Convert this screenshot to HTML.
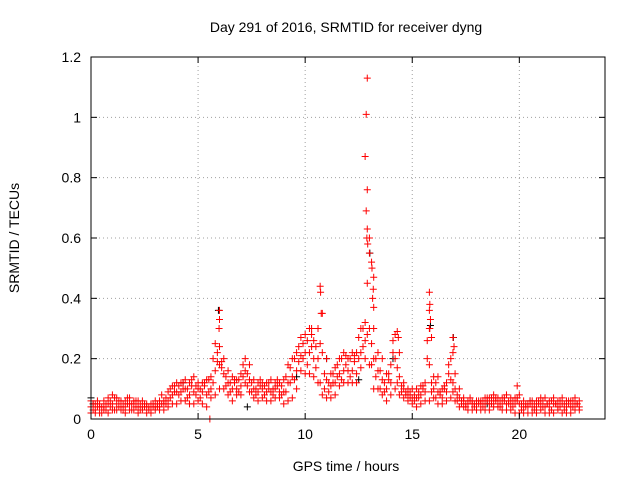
<!DOCTYPE html>
<html><head><meta charset="utf-8"><style>
body{margin:0;background:#fff}
svg{display:block;font-family:"Liberation Sans",sans-serif}
</style></head><body>
<svg id="c" width="640" height="480"></svg>
<script>
const xTicks=[0,5,10,15,20];
const yTicks=[0,0.2,0.4,0.6,0.8,1,1.2];
const yTickLabels=["0","0.2","0.4","0.6","0.8","1","1.2"];
const tStart=0, tStep=0.2, tStartB=0.1;
const lo=[.02,.02,.02,.03,.02,.03, .03,.03,.02,.03,.03,.02,.03,.02,.02,.03,
.03,.03,.04,.05,.05, .06,.06,.05,.05,.06, .05,.04,.07,.08,.1, .1,.08,.06,.08,.08,
.12,.09,.07,.06,.07, .06,.06,.07,.07,.05, .06,.07,.1,.16,.15, .15,.14,.12,.08,.07,
.07,.08,.11,.12,.12, .12,.12,.17,.2,.18, .1,.1,.08,.06,.08, .1,.08,.07,.06,.05,
.04,.05,.06,.06,.07, .05,.05,.06,.07,.06, .04,.04,.03,.03,.03, .03,.03,.03,.04,.04,
.03,.03,.03,.02,.02, .02,.02,.02,.02,.03, .02,.02,.02,.03,.02, .02,.02,.03,.03];
const mid=[.04,.03,.04,.04,.05,.05, .05,.04,.04,.05,.05,.04,.04,.04,.03,.04,
.04,.05,.06,.08,.09, .09,.1,.08,.09,.1, .09,.08,.1,.16,.18, .15,.12,.1,.1,.11,
.16,.13,.1,.09,.1, .09,.09,.1,.09,.09, .12,.14,.16,.21,.22, .22,.2,.2,.22,.13,
.11,.12,.15,.16,.16, .16,.15,.22,.26,.3, .2,.16,.13,.1,.12, .2,.14,.1,.08,.07,
.07,.08,.09,.18,.1, .09,.07,.09,.13,.1, .07,.06,.05,.05,.05, .05,.05,.05,.06,.05,
.05,.05,.05,.05,.05, .04,.04,.04,.04,.05, .04,.04,.05,.04,.05, .04,.04,.05,.04];
const hi=[.06,.05,.05,.06,.07,.08, .07,.06,.06,.07,.06,.06,.06,.05,.05,.06,
.06,.06,.09,.11,.12, .12,.13,.12,.14,.12, .12,.13,.14,.25,.24, .2,.16,.14,.13,.15,
.2,.18,.13,.12,.12, .12,.13,.12,.12,.13, .18,.2,.22,.27,.28, .3,.26,.3,.35,.2,
.15,.17,.2,.22,.2, .22,.22,.3,.32,.6, .3,.22,.2,.15,.18, .28,.22,.12,.1,.1,
.1,.11,.12,.3,.14, .14,.1,.12,.2,.15, .1,.07,.06,.06,.06, .06,.07,.07,.08,.07,
.07,.08,.07,.07,.08, .06,.05,.06,.06,.07, .07,.06,.07,.06,.07, .06,.06,.07,.06];
const a=[.03,.04,.02,.03,.04,.03, .04,.03,.05,.03,.04,.03,.04,.03,.04,
.04,.05,.05,.07,.09, .08,.1,.07,.11,.08, .07,.11,.09,.12,.19, .17,.11,.09,.12,.09,
.14,.11,.09,.08,.11, .08,.1,.08,.11,.08, .09,.12,.13,.19,.2, .18,.24,.17,.12,.1,
.09,.12,.14,.13,.18, .14,.19,.2,.24,.28, .18,.14,.1,.09,.13, .22,.12,.09,.08,.07,
.06,.07,.1,.2,.09, .07,.09,.1,.15,.09, .06,.05,.04,.06,.04, .05,.04,.06,.05,.06,
.04,.06,.05,.04,.06, .03,.04,.05,.03,.05, .04,.05,.03,.05,.04, .03,.05,.04,.05];
const b=[.05,.06,.04,.05,.06,.07, .06,.05,.07,.05,.06,.05,.05,.04,.05,
.05,.08,.07,.1,.11, .11,.12,.1,.13,.11, .1,.12,.13,.2,.22, .19,.14,.12,.13,.13,
.18,.15,.12,.1,.13, .11,.12,.1,.13,.11, .14,.17,.2,.24,.25, .26,.28,.24,.25,.15,
.12,.15,.18,.2,.21, .2,.21,.27,.3,.45, .25,.2,.16,.12,.15, .26,.17,.11,.09,.09,
.08,.09,.11,.26,.12, .12,.08,.11,.18,.12, .08,.06,.05,.07,.05, .06,.06,.07,.07,.07,
.06,.07,.06,.06,.07, .05,.05,.06,.05,.06, .06,.05,.06,.05,.06, .05,.06,.06,.05];
const spikeT=[12.9,12.85,12.8,12.9,12.85,12.9,12.88,12.92,13.0,13.1,13.12,13.2,13.18,13.15,13.2,6.0,6.0,5.98,10.7,10.72,10.75,10.3,15.8,15.82,15.8,15.85,15.82,15.9,16.9,16.95,16.9,5.55,19.9,14.3,14.35];
const spikeV=[1.13,1.01,0.87,0.76,0.69,0.63,0.6,0.58,0.55,0.52,0.5,0.47,0.43,0.4,0.37,0.36,0.33,0.3,0.44,0.42,0.35,0.3,0.42,0.38,0.36,0.33,0.3,0.27,0.27,0.24,0.22,0.0,0.11,0.29,0.27];
const blackT=[5.95,13.02,15.85,16.92,11.0,0.0,7.3,0.1,9.6,12.5,20.5,14.1,4.3,18.5];
const blackV=[0.36,0.55,0.31,0.27,0.2,0.07,0.04,0.05,0.14,0.13,0.06,0.2,0.12,0.05];

const X0=91,X1=605,Y0=419,Y1=57,XMAX=24,YMAX=1.2;
const sx=t=>X0+t/XMAX*(X1-X0);
const sy=v=>Y0-v/YMAX*(Y0-Y1);
const svg=document.getElementById('c');
const NS='http://www.w3.org/2000/svg';
function mk(tag,attrs,parent){const e=document.createElementNS(NS,tag);for(const k in attrs)e.setAttribute(k,attrs[k]);(parent||svg).appendChild(e);return e;}
const grid=mk('g',{});


xTicks.forEach(t=>{if(t>0)mk('line',{x1:sx(t),x2:sx(t),y1:Y0,y2:Y1,stroke:'#a0a0a0','stroke-dasharray':'1,3','stroke-width':1},grid);});
yTicks.forEach(v=>{if(v>0&&v<YMAX)mk('line',{x1:X0,x2:X1,y1:sy(v),y2:sy(v),stroke:'#a0a0a0','stroke-dasharray':'1,3','stroke-width':1},grid);});
const pts=mk('g',{});


function plus(t,v,col){const x=sx(t),y=sy(v);mk('path',{d:`M${x-3.5},${y}h7M${x},${y-3.5}v7`,stroke:col,'stroke-width':1,fill:'none'},pts);}
blackT.forEach((t,i)=>plus(t,blackV[i],'#000'));
[lo,mid,hi].forEach(arr=>arr.forEach((v,i)=>plus(tStart+i*tStep,v,'#f00')));
[a,b].forEach(arr=>arr.forEach((v,i)=>plus(tStartB+i*tStep,v,'#f00')));
spikeT.forEach((t,i)=>plus(t,spikeV[i],'#f00'));
const ax=mk('g',{});


mk('rect',{x:X0,y:Y1,width:X1-X0,height:Y0-Y1,fill:'none',stroke:'#000','stroke-width':1},ax);
xTicks.forEach(t=>{mk('line',{x1:sx(t),x2:sx(t),y1:Y0,y2:Y0-6,stroke:'#000'},ax);mk('line',{x1:sx(t),x2:sx(t),y1:Y1,y2:Y1+6,stroke:'#000'},ax);
 const tx=mk('text',{x:sx(t),y:Y0+20,'text-anchor':'middle','font-size':14},ax);tx.textContent=t;
 });
yTicks.forEach((v,i)=>{mk('line',{x1:X0,x2:X0+6,y1:sy(v),y2:sy(v),stroke:'#000'},ax);mk('line',{x1:X1,x2:X1-6,y1:sy(v),y2:sy(v),stroke:'#000'},ax);
 const tx=mk('text',{x:X0-10,y:sy(v)+5,'text-anchor':'end','font-size':14},ax);tx.textContent=yTickLabels[i];
 });
const title=mk('text',{x:346,y:32,'text-anchor':'middle','font-size':14});title.textContent='Day 291 of 2016, SRMTID for receiver dyng';

const xl=mk('text',{x:346,y:471,'text-anchor':'middle','font-size':14});xl.textContent='GPS time / hours';

const yl=mk('text',{x:0,y:0,'text-anchor':'middle','font-size':14,transform:'translate(19,238) rotate(-90)'});yl.textContent='SRMTID / TECUs';

</script>
</body></html>
